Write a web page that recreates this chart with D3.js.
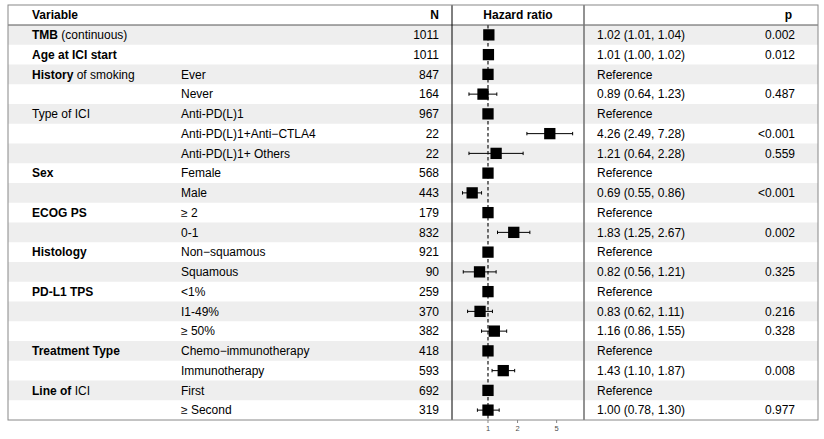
<!DOCTYPE html>
<html>
<head>
<meta charset="utf-8">
<script src="https://cdn.jsdelivr.net/npm/d3@7/dist/d3.min.js"></script>
<style>
  html, body { margin: 0; padding: 0; background: #fff; }
  svg { display: block; }
  text { font-family: "Liberation Sans", Arial, Helvetica, sans-serif; white-space: pre; }
</style>
</head>
<body>
<svg id="chart" width="824" height="439"></svg>
<script>
// ---- data ----
const varBold = ["TMB", "Age at ICI start", "History", "", "", "", "", "Sex", "", "ECOG PS", "", "Histology", "", "PD-L1 TPS", "", "", "Treatment Type", "", "Line of ", ""];
const varNormal = [" (continuous)", "", " of smoking", "", "Type of ICI", "", "", "", "", "", "", "", "", "", "", "", "", "", "ICI", ""];
const subgroups = ["", "", "Ever", "Never", "Anti-PD(L)1", "Anti-PD(L)1+Anti\u2212CTLA4", "Anti-PD(L)1+ Others", "Female", "Male", "\u2265 2", "0-1", "Non\u2212squamous", "Squamous", "<1%", "I1-49%", "\u2265 50%", "Chemo\u2212immunotherapy", "Immunotherapy", "First", "\u2265 Second"];
const nValues = [1011, 1011, 847, 164, 967, 22, 22, 568, 443, 179, 832, 921, 90, 259, 370, 382, 418, 593, 692, 319];
const hr    = [1.02, 1.01, 1, 0.89, 1, 4.26, 1.21, 1, 0.69, 1, 1.83, 1, 0.82, 1, 0.83, 1.16, 1, 1.43, 1, 1.00];
const lower = [1.01, 1.00, null, 0.64, null, 2.49, 0.64, null, 0.55, null, 1.25, null, 0.56, null, 0.62, 0.86, null, 1.10, null, 0.78];
const upper = [1.04, 1.02, null, 1.23, null, 7.28, 2.28, null, 0.86, null, 2.67, null, 1.21, null, 1.11, 1.55, null, 1.87, null, 1.30];
const pValues = ["0.002", "0.012", "", "0.487", "", "<0.001", "0.559", "", "<0.001", "", "0.002", "", "0.325", "", "0.216", "0.328", "", "0.008", "", "0.977"];
const axisTicks = [1, 2, 5];
const headers = ["Variable", "N", "Hazard ratio", "p"];

// ---- layout ----
const svg = d3.select("#chart");
const L = 8, R = 818, T = 5, HB = 25, B = 420;
const panelL = 452, panelR = 584;
const colVar = 32, colSub = 181, colN = 439, colEst = 597, colP = 795;

const rows = d3.range(nValues.length);
const y = d3.scaleBand().domain(rows).range([HB, B]).padding(0);
const x = d3.scaleLog().domain([0.43, 9.5]).range([panelL, panelR]);

// row shading
svg.append("g").selectAll("rect").data(rows.filter(i => i % 2 === 0)).join("rect")
  .attr("x", L).attr("y", i => y(i)).attr("width", R - L).attr("height", y.bandwidth())
  .attr("fill", "#eeeeee");

const fs = 12;
const cy = i => y(i) + y.bandwidth() / 2;

// headers
const hdr = svg.append("g").attr("font-size", fs).attr("font-weight", "bold").attr("fill", "#000");
hdr.append("text").attr("x", colVar).attr("y", 15).attr("dy", "0.36em").text(headers[0]);
hdr.append("text").attr("x", colN).attr("y", 15).attr("dy", "0.36em").attr("text-anchor", "end").text(headers[1]);
hdr.append("text").attr("x", (panelL + panelR) / 2).attr("y", 15).attr("dy", "0.36em").attr("text-anchor", "middle").text(headers[2]);
hdr.append("text").attr("x", colP - 3).attr("y", 15).attr("dy", "0.36em").attr("text-anchor", "end").text(headers[3]);

// variable column
const vt = svg.append("g").attr("font-size", fs).attr("fill", "#000")
  .selectAll("text").data(rows).join("text")
  .attr("x", colVar).attr("y", cy).attr("dy", "0.36em");
vt.append("tspan").attr("font-weight", "bold").text(i => varBold[i]);
vt.append("tspan").text(i => varNormal[i]);

// subgroup column
svg.append("g").attr("font-size", fs).attr("fill", "#000")
  .selectAll("text").data(rows).join("text")
  .attr("x", colSub).attr("y", cy).attr("dy", "0.36em").text(i => subgroups[i]);

// N column
svg.append("g").attr("font-size", fs).attr("fill", "#000")
  .selectAll("text").data(rows).join("text")
  .attr("x", colN).attr("y", cy).attr("dy", "0.36em").attr("text-anchor", "end").text(i => nValues[i]);

// estimate column
const fmt = d3.format(".2f");
svg.append("g").attr("font-size", fs).attr("fill", "#000")
  .selectAll("text").data(rows).join("text")
  .attr("x", colEst).attr("y", cy).attr("dy", "0.36em")
  .text(i => lower[i] === null ? "Reference" : `${fmt(hr[i])} (${fmt(lower[i])}, ${fmt(upper[i])})`);

// p column
svg.append("g").attr("font-size", fs).attr("fill", "#000")
  .selectAll("text").data(rows).join("text")
  .attr("x", colP).attr("y", cy).attr("dy", "0.36em").attr("text-anchor", "end").text(i => pValues[i]);

// reference dashed line
svg.append("line").attr("x1", x(1)).attr("x2", x(1)).attr("y1", HB).attr("y2", B)
  .attr("stroke", "#000").attr("stroke-width", 1.1).attr("stroke-dasharray", "3.5,2.5");

// CI whiskers
const ci = svg.append("g").attr("stroke", "#000").attr("stroke-width", 1)
  .selectAll("g").data(rows.filter(i => lower[i] !== null)).join("g");
ci.append("line").attr("x1", i => x(lower[i])).attr("x2", i => x(upper[i])).attr("y1", cy).attr("y2", cy);
ci.append("line").attr("x1", i => x(lower[i])).attr("x2", i => x(lower[i])).attr("y1", i => cy(i) - 1.7).attr("y2", i => cy(i) + 1.7);
ci.append("line").attr("x1", i => x(upper[i])).attr("x2", i => x(upper[i])).attr("y1", i => cy(i) - 1.7).attr("y2", i => cy(i) + 1.7);

// squares
const bs = 11.3;
svg.append("g").selectAll("rect").data(rows).join("rect")
  .attr("x", i => x(hr[i]) - bs / 2).attr("y", i => cy(i) - bs / 2)
  .attr("width", bs).attr("height", bs).attr("fill", "#000");

// axis ticks
const ax = svg.append("g").attr("transform", `translate(0,${B})`);
ax.selectAll("line").data(axisTicks).join("line")
  .attr("x1", d => x(d)).attr("x2", d => x(d)).attr("y1", 0).attr("y2", 3)
  .attr("stroke", "#333").attr("stroke-width", 0.6);
ax.selectAll("text").data(axisTicks).join("text")
  .attr("x", d => x(d)).attr("y", 8.5).attr("dy", "0.36em").attr("text-anchor", "middle")
  .attr("font-size", 7.5).attr("fill", "#4d4d4d").text(d => d);

// table lines
svg.append("line").attr("x1", L).attr("x2", R).attr("y1", HB).attr("y2", HB).attr("stroke", "#555").attr("stroke-width", 1);
svg.append("line").attr("x1", panelL).attr("x2", panelL).attr("y1", T).attr("y2", B).attr("stroke", "#000").attr("stroke-width", 1);
svg.append("line").attr("x1", panelR).attr("x2", panelR).attr("y1", T).attr("y2", B).attr("stroke", "#777").attr("stroke-width", 1.6);
svg.append("rect").attr("x", L).attr("y", T).attr("width", R - L).attr("height", B - T)
  .attr("fill", "none").attr("stroke", "#888").attr("stroke-width", 1);
</script>
</body>
</html>
